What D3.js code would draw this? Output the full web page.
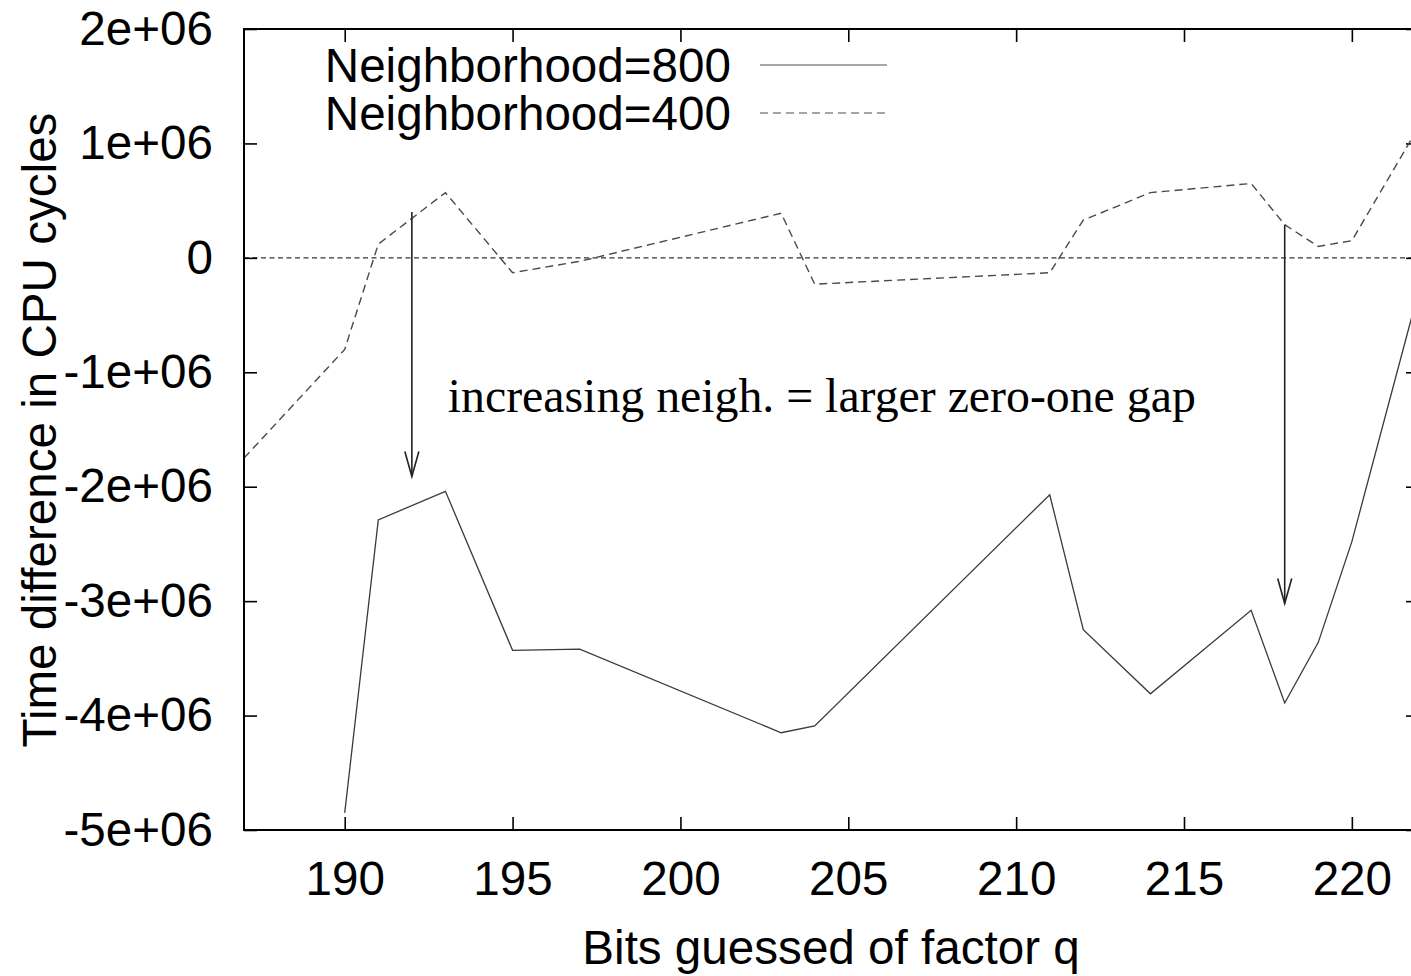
<!DOCTYPE html>
<html>
<head>
<meta charset="utf-8">
<script src="https://cdn.jsdelivr.net/npm/d3@7"></script>
<style>
  html, body { margin: 0; padding: 0; background: #fff; }
  svg { display: block; }
</style>
</head>
<body>
<svg id="chart" width="1411" height="976"></svg>
<script>
// ---- data ----
const bits800 = [190, 191, 193, 195, 197, 203, 204, 211, 212, 214, 217, 218, 219, 220, 222];
const vals800 = [-4.85e6, -2.29e6, -2.04e6, -3.43e6, -3.42e6, -4.15e6, -4.09e6, -2.07e6, -3.25e6, -3.81e6, -3.08e6, -3.89e6, -3.36e6, -2.48e6, -0.28e6];

const bits400 = [187, 190, 191, 193, 195, 197, 203, 204, 211, 212, 214, 217, 218, 219, 220, 222];
const vals400 = [-1.75e6, -0.80e6, 0.12e6, 0.57e6, -0.13e6, -0.03e6, 0.39e6, -0.23e6, -0.13e6, 0.33e6, 0.57e6, 0.65e6, 0.29e6, 0.10e6, 0.15e6, 1.15e6];

const seriesNames = ["Neighborhood=800", "Neighborhood=400"];

const xTicks = [190, 195, 200, 205, 210, 215, 220];
const yTicks = [2e6, 1e6, 0, -1e6, -2e6, -3e6, -4e6, -5e6];
const yTickLabels = ["2e+06", "1e+06", "0", "-1e+06", "-2e+06", "-3e+06", "-4e+06", "-5e+06"];

const arrowBits = [192, 218];
const arrowFrom = [0.40e6, 0.29e6];
const arrowTo = [-1.91e6, -3.02e6];

const annotationText = "increasing neigh. = larger zero-one gap";
const annotationAt = [193.07, -1.35e6];

const xTitle = "Bits guessed of factor q";
const yTitle = "Time difference in CPU cycles";

// ---- layout ----
const L = 244, T = 29, R = 1419, B = 830;
const sans = "'Liberation Sans', Arial, sans-serif";
const serif = "'Liberation Serif', 'Times New Roman', serif";
const fs = 47.6;

const svg = d3.select("#chart");
const x = d3.scaleLinear().domain([187, 222]).range([L, R]);
const y = d3.scaleLinear().domain([-5e6, 2e6]).range([B, T]);

svg.append("defs").append("clipPath").attr("id", "clip")
  .append("rect").attr("x", L).attr("y", T).attr("width", R - L).attr("height", B - T);

// zero line
svg.append("line")
  .attr("x1", L).attr("x2", R).attr("y1", y(0)).attr("y2", y(0))
  .attr("stroke", "#333").attr("stroke-width", 1.2).attr("stroke-dasharray", "5,3.5");

// axes with inward ticks
function styleAxis(g) {
  g.select(".domain").remove();
  g.selectAll(".tick line").attr("stroke", "#000").attr("stroke-width", 1.6);
  g.selectAll(".tick text").attr("fill", "#000").style("font-family", sans).style("font-size", fs + "px");
}

svg.append("g").attr("transform", `translate(${L},0)`)
  .call(d3.axisLeft(y).tickValues(yTicks).tickSize(-13).tickPadding(31)
    .tickFormat((d, i) => yTickLabels[i]))
  .call(styleAxis);

svg.append("g").attr("transform", `translate(${R},0)`)
  .call(d3.axisRight(y).tickValues(yTicks).tickSize(-13).tickFormat(""))
  .call(styleAxis);

svg.append("g").attr("transform", `translate(0,${B})`)
  .call(d3.axisBottom(x).tickValues(xTicks).tickSize(-13).tickPadding(31).tickFormat(d3.format("d")))
  .call(styleAxis);

svg.append("g").attr("transform", `translate(0,${T})`)
  .call(d3.axisTop(x).tickValues(xTicks).tickSize(-13).tickFormat(""))
  .call(styleAxis);

// series lines
const line = d3.line().x(d => x(d[0])).y(d => y(d[1]));
const plot = svg.append("g").attr("clip-path", "url(#clip)");

plot.append("path")
  .datum(bits400.map((b, i) => [b, vals400[i]]))
  .attr("d", line).attr("fill", "none")
  .attr("stroke", "#4a4a4a").attr("stroke-width", 1.4).attr("stroke-dasharray", "8,5");

plot.append("path")
  .datum(bits800.map((b, i) => [b, vals800[i]]))
  .attr("d", line).attr("fill", "none")
  .attr("stroke", "#3a3a3a").attr("stroke-width", 1.3);

// arrows
arrowBits.forEach((b, i) => {
  const ax = x(b), y0 = y(arrowFrom[i]), y1 = y(arrowTo[i]);
  plot.append("line").attr("x1", ax).attr("x2", ax).attr("y1", y0).attr("y2", y1)
    .attr("stroke", "#222").attr("stroke-width", 1.6);
  plot.append("path")
    .attr("d", `M${ax - 7},${y1 - 25} L${ax},${y1} L${ax + 7},${y1 - 25}`)
    .attr("fill", "none").attr("stroke", "#222").attr("stroke-width", 1.6);
});

// annotation
svg.append("text")
  .attr("x", x(annotationAt[0])).attr("y", y(annotationAt[1]))
  .style("font-family", serif).style("font-size", "47.8px").attr("fill", "#000")
  .text(annotationText);

// frame
svg.append("rect").attr("x", L).attr("y", T).attr("width", R - L).attr("height", B - T)
  .attr("fill", "none").attr("stroke", "#000").attr("stroke-width", 2);

// legend
const legend = svg.append("g");
const legY = [65, 113];
const legDash = [null, "8,5"];
seriesNames.forEach((name, i) => {
  legend.append("text").attr("x", 731).attr("y", legY[i] + 16.5)
    .attr("text-anchor", "end")
    .style("font-family", sans).style("font-size", fs + "px").attr("fill", "#000")
    .text(name);
  legend.append("line").attr("x1", 760).attr("x2", 887).attr("y1", legY[i]).attr("y2", legY[i])
    .attr("stroke", "#888").attr("stroke-width", 1.5)
    .attr("stroke-dasharray", legDash[i]);
});

// axis titles
svg.append("text")
  .attr("x", 831).attr("y", 964)
  .attr("text-anchor", "middle")
  .style("font-family", sans).style("font-size", fs + "px").attr("fill", "#000")
  .text(xTitle);

svg.append("text")
  .attr("transform", `translate(56,430) rotate(-90)`)
  .attr("text-anchor", "middle")
  .style("font-family", sans).style("font-size", fs + "px").attr("fill", "#000")
  .text(yTitle);
</script>
</body>
</html>
